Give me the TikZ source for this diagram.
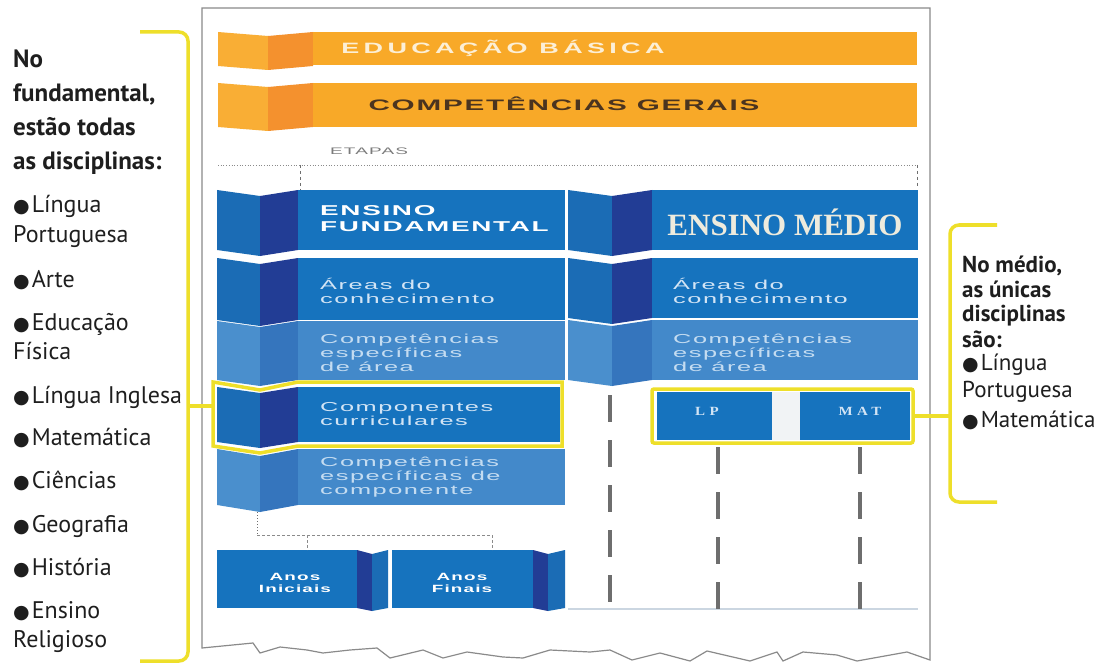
\documentclass[tikz,border=0pt]{standalone}
\usepackage{fontspec}
\setmainfont{PT Sans}
\newfontfamily\widef[LetterSpace=6]{Liberation Sans}
\newfontfamily\serw[LetterSpace=30]{Liberation Serif}
\newfontfamily\tms{Liberation Serif}
\newfontfamily\djv{DejaVu Sans}
\usetikzlibrary{fit}
\newcommand\ml[1]{\begin{tabular}[t]{@{}l@{}}#1\end{tabular}}
\newcommand\mc[1]{\begin{tabular}[t]{@{}c@{}}#1\end{tabular}}
\newcommand\sx[2]{\scalebox{#1}[1]{#2}}
\newcommand\bul{{\djv\fontsize{19}{19}\selectfont ●}\hspace{2pt}}
\definecolor{org}{HTML}{F8A928}
\definecolor{orgL}{HTML}{F9AE35}
\definecolor{orgD}{HTML}{F4912E}
\definecolor{ebtxt}{HTML}{FCEFD6}
\definecolor{emtxt}{HTML}{EEEBDD}
\definecolor{cgtxt}{HTML}{4B341F}
\definecolor{bl}{HTML}{1673BE}
\definecolor{blL}{HTML}{1B6CB5}
\definecolor{navy}{HTML}{223D95}
\definecolor{lb}{HTML}{4389CA}
\definecolor{lbL}{HTML}{4A8FCD}
\definecolor{lbD}{HTML}{3575BD}
\definecolor{txb}{HTML}{D2E4F5}
\definecolor{txl}{HTML}{C4DCF1}
\definecolor{yel}{HTML}{EEDF2A}
\definecolor{txt}{HTML}{1E1E1E}
\definecolor{gr}{HTML}{6E6E6E}
\definecolor{cardln}{HTML}{8A8A8A}
\definecolor{faint}{HTML}{CBD6E1}
\definecolor{gapc}{HTML}{F1F3F5}
% fold: x0, xm, x1, ytop, ybot, d, colour left, colour crease
\newcommand\fold[8]{%
  \fill[#7] (#1,#4) -- (#2,#4+#6) -- (#2,#5+#6) -- (#1,#5) -- cycle;
  \fill[#8] (#2,#4+#6) -- (#3,#4) -- (#3,#5) -- (#2,#5+#6) -- cycle;}
\tikzset{
  box/.style={inner sep=0pt, outer sep=0pt},
  lbl/.style={inner sep=0pt, anchor=base west},
  ybr/.style={draw=yel, line width=3.5pt, rounded corners=9pt},
  dsh/.style={draw=gr, line width=3.5pt, dash pattern=on 27pt off 18pt},
  rowtxt/.style={lbl, font=\widef\fontsize{13}{14}\selectfont},
}
\begin{document}
\begin{tikzpicture}[x=1pt,y=-1pt]
\useasboundingbox (0,0) rectangle (1112,666);
\fill[white] (0,0) rectangle (1112,666);

% card
\filldraw[fill=white, draw=cardln, line width=1.2pt] (202,648) -- (202,8) -- (930,8) -- (930,660)
 -- (907,652) -- (857,661) -- (837,655) -- (803,652) -- (783,661) -- (777,652) -- (750,661)
 -- (707,651) -- (690,661) -- (660,653) -- (632,660) -- (610,650) -- (590,652) -- (550,650)
 -- (523,658) -- (503,657) -- (467,652) -- (443,658) -- (423,650) -- (390,658) -- (377,648)
 -- (350,650) -- (323,653) -- (307,650) -- (280,647) -- (260,653) -- (253,643) -- cycle;

% orange bars
\fold{218}{268}{313}{32}{66}{4}{orgL}{orgD}
\node[box, fill=org, fit={(313,32) (917,65)}] (eb) {};
\node[anchor=base, inner sep=0pt, text=ebtxt, font=\widef\bfseries\fontsize{15}{15}\selectfont\addfontfeature{LetterSpace=16}] (ebt) at (503,54) {\sx{1.8}{EDUCAÇÃO BÁSICA}};
\fold{218}{268}{313}{83}{127}{4}{orgL}{orgD}
\node[box, fill=org, fit={(313,83) (917,127)}] (cg) {};
\node[anchor=base, inner sep=0pt, text=cgtxt, font=\widef\bfseries\fontsize{15.2}{16}\selectfont] (cgt) at (564,111) {\sx{1.95}{COMPETÊNCIAS GERAIS}};

% etapas
\node[lbl, text=gr!90, font=\widef\fontsize{9.5}{12}\selectfont] (et) at (330,155) {\sx{2}{ETAPAS}};
\coordinate (etl) at (218,165);
\coordinate (etr) at (917,165);
\draw[gr!80, dotted, line width=0.7pt] (etl) -- (etr);

% left column
\fold{217}{260}{298}{190}{250}{6}{blL}{navy}
\node[box, fill=bl, fit={(298,190) (565,250)}] (ef) {};
\node[lbl, text=white, font=\widef\bfseries\fontsize{14.3}{17}\selectfont] (eft) at (320,215) {\sx{1.95}{\ml{ENSINO\\FUNDAMENTAL}}};
\fold{217}{260}{298}{258}{320}{6}{blL}{navy}
\node[box, fill=bl, fit={(298,258) (565,320)}] (ea) {};
\node[rowtxt, text=txb] (eat) at (320,289) {\sx{1.95}{\ml{Áreas do\\conhecimento}}};
\fold{217}{260}{298}{321}{380}{6}{lbL}{lbD}
\node[box, fill=lb, fit={(298,321) (565,380)}] (ec) {};
\node[rowtxt, text=txl] (ect) at (320,343) {\sx{1.95}{\ml{Competências\\específicas\\de área}}};
\fold{217}{260}{298}{387}{442}{6}{blL}{navy}
\node[box, fill=bl, fit={(298,387) (560,442)}] (cc) {};
\node[rowtxt, text=txb] (cct) at (320,411) {\sx{1.95}{\ml{Componentes\\curriculares}}};
\fold{217}{260}{298}{449}{505}{7}{lbL}{lbD}
\node[box, fill=lb, fit={(298,449) (565,505)}] (cec) {};
\node[rowtxt, text=txl] (cect) at (320,466) {\sx{1.95}{\ml{Competências\\específicas de\\componente}}};

% highlight left
\node[box, fit={(213,382) (562,446)}] (hl) {};
\draw[yel, line width=3.5pt, line join=miter] (213,382) -- (260,390) -- (298,382) -- (562,382) -- (562,446) -- (298,446) -- (260,453) -- (213,446) -- cycle;

% ticks from etapas line
\draw[gr, dashed, line width=0.6pt] (etl -| 300,0) -- (300,190);
\draw[gr, dashed, line width=0.6pt] (etr) -- (917,188);

% anos
\node[box, fill=bl, fit={(217,550) (357,608)}] (ai) {};
\fill[navy] (357,550) -- (372,554) -- (372,611) -- (357,608) -- cycle;
\fill[blL] (372,554) -- (388,550) -- (388,608) -- (372,611) -- cycle;
\node[anchor=base, inner sep=0pt, text=white, font=\widef\bfseries\fontsize{10.5}{12.5}\selectfont] (ait) at (295,580) {\sx{1.8}{\mc{Anos\\Iniciais}}};
\node[box, fill=bl, fit={(392,550) (533,608)}] (af) {};
\fill[navy] (533,550) -- (548,554) -- (548,611) -- (533,608) -- cycle;
\fill[blL] (548,554) -- (565,550) -- (565,608) -- (548,611) -- cycle;
\node[anchor=base, inner sep=0pt, text=white, font=\widef\bfseries\fontsize{10.5}{12.5}\selectfont] (aft) at (462,580) {\sx{1.8}{\mc{Anos\\Finais}}};
\coordinate (cjL) at (257,535);
\coordinate (cjR) at (492,535);
\draw[gr, dotted, line width=1pt] (257,512) -- (cjL);
\draw[gr!80, line width=0.6pt, dash pattern=on 3pt off 2pt] (cjL) -- (cjR);
\draw[gr!80, line width=0.6pt, dash pattern=on 3pt off 2pt] (cjL -| 307,0) -- (ai.north -| 307,0);
\draw[gr!80, line width=0.6pt, dash pattern=on 3pt off 2pt] (cjR) -- (af.north -| cjR);

% right column
\fold{568}{612}{652}{190}{250}{6}{blL}{navy}
\node[box, fill=bl, fit={(652,190) (918,250)}] (em) {};
\node[anchor=base, inner sep=0pt, text=emtxt, font=\tms\bfseries\fontsize{31}{31}\selectfont] (emt) at (785,235) {ENSINO MÉDIO};
\fold{568}{612}{652}{258}{318}{6}{blL}{navy}
\node[box, fill=bl, fit={(652,258) (918,318)}] (ma) {};
\node[rowtxt, text=txb] (mat2) at (673,289) {\sx{1.95}{\ml{Áreas do\\conhecimento}}};
\fold{568}{612}{652}{320}{380}{6}{lbL}{lbD}
\node[box, fill=lb, fit={(652,320) (918,380)}] (mc) {};
\node[rowtxt, text=txl] (mct) at (673,343) {\sx{1.95}{\ml{Competências\\específicas\\de área}}};

\draw[faint, line width=1.5pt] (568,609) -- (918,609);

% dashed lines
\coordinate (d1s) at (610,395);
\coordinate (d1e) at (610,607);
\coordinate (d2e) at (718,610);
\coordinate (d3e) at (860,610);
\node[box, fill=bl, fit={(657,392) (772,440)}] (lp) {};
\node[box, fill=bl, fit={(800,392) (910,440)}] (mt) {};
\fill[gapc] (lp.north east) rectangle (mt.south west);
\draw[dsh] (d1s) -- (d1e);
\draw[dsh] ([yshift=-7pt]lp.south -| d2e) -- (d2e);
\draw[dsh] ([yshift=-7pt]mt.south -| d3e) -- (d3e);
\node[inner sep=0pt, text=txb, font=\serw\bfseries\fontsize{12.5}{14}\selectfont] (lpt) at (707,411) {\sx{1.2}{LP}};
\node[inner sep=0pt, text=txb, font=\serw\bfseries\fontsize{12.5}{14}\selectfont] (mtt) at (860,411) {\sx{1.2}{MAT}};
\node[box, draw=yel, line width=3.5pt, rounded corners=2pt, fit={(652,389) (913,443)}] (ybox) {};

% brackets
\coordinate (lb1) at (140,32);
\coordinate (lb2) at (188,32);
\coordinate (lb3) at (188,661);
\coordinate (lb4) at (140,661);
\draw[ybr] (lb1) -- (lb2) -- (lb3) -- (lb4);
\coordinate (lbt) at (188,406);
\draw[yel, line width=3.5pt] (lbt) -- (lbt -| hl.west);
\coordinate (rb1) at (997,225);
\coordinate (rb2) at (950,225);
\coordinate (rb3) at (950,502);
\coordinate (rb4) at (997,502);
\draw[ybr] (rb1) -- (rb2) -- (rb3) -- (rb4);
\draw[yel, line width=3.5pt] (ybox.east) -- (ybox.east -| rb2);

% left text
\node[lbl, text=txt, font=\bfseries\fontsize{25}{34}\selectfont] (lh) at (13,68) {\ml{No\\fundamental,\\estão todas\\as disciplinas:}};
\begin{scope}[every node/.style={lbl, text=txt, font=\fontsize{24}{29}\selectfont}]
\node (l1) at (13,213) {\ml{\bul Língua\\Portuguesa}};
\node (l2) at (13,287) {\bul Arte};
\node (l3) at (13,330) {\ml{\bul Educação\\Física}};
\node (l4) at (13,403) {\bul Língua Inglesa};
\node (l5) at (13,445) {\bul Matemática};
\node (l6) at (13,488) {\bul Ciências};
\node (l7) at (13,532) {\bul Geografia};
\node (l8) at (13,575) {\bul História};
\node (l9) at (13,618) {\ml{\bul Ensino\\Religioso}};
\end{scope}

% right text
\node[lbl, text=txt, font=\bfseries\fontsize{23}{25}\selectfont] (rh) at (962,272) {\ml{No médio,\\as únicas\\disciplinas\\são:}};
\node[lbl, text=txt, font=\fontsize{23}{27}\selectfont] (r1) at (962,370) {\ml{\bul Língua\\Portuguesa}};
\node[lbl, text=txt, font=\fontsize{23}{27}\selectfont] (r2) at (962,427) {\bul Matemática};
\end{tikzpicture}
\end{document}
